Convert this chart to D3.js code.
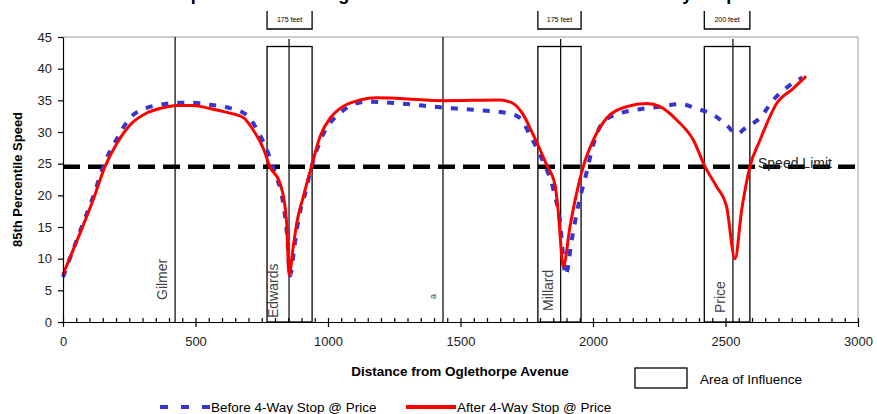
<!DOCTYPE html>
<html lang="en">
<head>
    <meta charset="UTF-8">
    <title>85th Percentile Speed</title>
    <script src="https://cdnjs.cloudflare.com/ajax/libs/d3/7.8.5/d3.min.js"></script>
    <style>
        body { margin: 0; background: #fff; }
        svg { display: block; font-family: Arial, "Liberation Sans", sans-serif; }
    </style>
</head>
<body>
    <div id="chart"></div>

    <script>
        // distance from Oglethorpe Avenue (ft) and 85th percentile speed (mph)
        const beforeDist = [0, 64, 114, 158, 203, 253, 316, 366, 429, 492, 555, 618, 693, 743, 769, 800, 830, 845, 857, 872, 890, 915, 940, 975, 1045, 1146, 1272, 1423, 1548, 1674, 1725, 1762, 1810, 1850, 1875, 1897, 1920, 1945, 1975, 2001, 2039, 2102, 2177, 2253, 2328, 2391, 2454, 2504, 2542, 2580, 2630, 2680, 2743, 2790];
        const beforeSpeed = [7.1, 14.3, 19.8, 25.2, 28.9, 32.2, 33.8, 34.3, 34.6, 34.6, 34.3, 33.9, 32.7, 29.5, 27.2, 23.5, 19.0, 14.0, 7.3, 11.5, 16.5, 20.5, 24.8, 29.0, 33.0, 34.8, 34.5, 33.9, 33.5, 33.0, 32.2, 29.5, 25.5, 21.0, 16.0, 7.4, 13.0, 18.5, 23.5, 28.0, 31.6, 32.95, 33.6, 34.0, 34.4, 33.7, 32.7, 31.1, 29.7, 30.8, 32.2, 35.05, 37.4, 38.6];

        const afterDist = [0, 64, 114, 158, 203, 253, 316, 366, 429, 492, 555, 618, 680, 718, 756, 781, 819, 834, 844, 853, 869, 882, 907, 938, 970, 1010, 1045, 1121, 1184, 1272, 1435, 1649, 1699, 1737, 1775, 1825, 1857, 1869, 1888, 1913, 1938, 1963, 2001, 2052, 2127, 2203, 2253, 2316, 2379, 2423, 2466, 2504, 2536, 2561, 2592, 2630, 2693, 2756, 2804];
        const afterSpeed = [7.5, 14.0, 19.3, 24.5, 28.2, 31.1, 33.0, 33.7, 34.2, 34.2, 33.7, 33.1, 32.3, 30.3, 27.4, 24.5, 21.9, 19.3, 15.6, 7.4, 11.9, 15.6, 19.8, 24.6, 29.3, 32.3, 33.7, 35.05, 35.4, 35.3, 34.95, 35.05, 34.5, 32.7, 29.5, 24.8, 21.6, 17.4, 8.8, 15.0, 20.3, 24.5, 28.7, 32.2, 34.0, 34.5, 34.0, 31.9, 28.7, 24.5, 21.4, 18.2, 10.0, 17.7, 24.5, 28.7, 34.5, 36.9, 38.8];

        const speedLimit = 24.5;

        // cross streets
        const streetNames = ['Gilmer', 'Edwards', 'a', 'Millard', 'Price'];
        const streetDist = [423, 853, 1434, 1878, 2528];

        // areas of influence
        const zoneStart = [770, 1792, 2420];
        const zoneEnd = [940, 1955, 2592];
        const zoneLabels = ['175 feet', '175 feet', '200 feet'];
        const zoneTop = 43.5;

        const xTicks = [0, 500, 1000, 1500, 2000, 2500, 3000];
        const yTicks = [0, 5, 10, 15, 20, 25, 30, 35, 40, 45];

        const width = 877;
        const height = 414;

        const svg = d3.select('#chart')
            .append('svg')
            .attr('width', width)
            .attr('height', height);

        const x = d3.scaleLinear().domain([0, 3000]).range([63, 858]);
        const y = d3.scaleLinear().domain([0, 45]).range([322, 37]);

        // title (cut off at the top edge in the original)
        svg.append('text')
            .attr('x', 458)
            .attr('y', -0.5)
            .attr('text-anchor', 'middle')
            .attr('font-size', 18)
            .attr('font-weight', 'bold')
            .text('Speed Profile Along Abercorn Street Before and After 4-Way Stop');

        // plot frame (top and right)
        svg.append('path')
            .attr('d', `M${x(0)},${y(45)}H${x(3000)}V${y(0)}`)
            .attr('fill', 'none')
            .attr('stroke', '#999')
            .attr('stroke-width', 1);

        // street lines
        svg.selectAll('.street')
            .data(streetDist)
            .enter()
            .append('line')
            .attr('x1', d => x(d))
            .attr('x2', d => x(d))
            .attr('y1', (d, i) => (i === 0 || i === 2) ? y(45) : y(44.7))
            .attr('y2', y(0))
            .attr('stroke', '#000')
            .attr('stroke-width', 1.2);

        svg.selectAll('.street-label')
            .data(streetNames)
            .enter()
            .append('text')
            .attr('transform', (d, i) => {
                const off = [-8, -11, -7, -8, -8][i];
                const ys = [300, 318, 299, 311, 313][i];
                return `translate(${x(streetDist[i]) + off},${ys}) rotate(-90)`;
            })
            .attr('font-size', d => d === 'a' ? 9 : 14)
            .attr('fill', '#444')
            .text(d => d);

        // area of influence boxes
        zoneStart.forEach((s, i) => {
            const e = zoneEnd[i];
            svg.append('rect')
                .attr('x', x(s))
                .attr('y', y(zoneTop))
                .attr('width', x(e) - x(s))
                .attr('height', y(0) - y(zoneTop))
                .attr('fill', 'none')
                .attr('stroke', '#000')
                .attr('stroke-width', 1.3);
            svg.append('path')
                .attr('d', `M${x(s)},11V29H${x(e)}V11`)
                .attr('fill', 'none')
                .attr('stroke', '#000')
                .attr('stroke-width', 1.3);
            svg.append('text')
                .attr('x', (x(s) + x(e)) / 2)
                .attr('y', 22)
                .attr('text-anchor', 'middle')
                .attr('font-size', 7)
                .text(zoneLabels[i]);
        });

        // speed limit
        svg.append('line')
            .attr('x1', x(0))
            .attr('x2', x(3000))
            .attr('y1', y(speedLimit))
            .attr('y2', y(speedLimit))
            .attr('stroke', '#000')
            .attr('stroke-width', 4.5)
            .attr('stroke-dasharray', '17,8');

        svg.append('text')
            .attr('x', 758)
            .attr('y', y(speedLimit) + 1)
            .attr('font-size', 14)
            .attr('fill', '#222')
            .text('Speed Limit');

        // speed profiles
        const line = d3.line()
            .x(d => x(d[0]))
            .y(d => y(d[1]))
            .curve(d3.curveMonotoneX);

        svg.append('path')
            .datum(beforeDist.map((d, i) => [d, beforeSpeed[i]]))
            .attr('d', line)
            .attr('fill', 'none')
            .attr('stroke', '#3535d0')
            .attr('stroke-width', 4)
            .attr('stroke-dasharray', '7,9');

        svg.append('path')
            .datum(afterDist.map((d, i) => [d, afterSpeed[i]]))
            .attr('d', line)
            .attr('fill', 'none')
            .attr('stroke', '#ff0000')
            .attr('stroke-width', 3);

        // axes
        const yAxis = svg.append('g')
            .attr('transform', `translate(${x(0)},0)`)
            .call(d3.axisLeft(y).tickValues(yTicks).tickSize(5).tickSizeOuter(0).tickPadding(6));

        const xMinor = svg.append('g')
            .attr('transform', `translate(0,${y(0)})`)
            .call(d3.axisBottom(x).tickValues(d3.range(0, 3001, 50)).tickSize(-4).tickSizeOuter(0).tickFormat(''));

        const xAxis = svg.append('g')
            .attr('transform', `translate(0,${y(0)})`)
            .call(d3.axisBottom(x).tickValues(xTicks).tickSize(5).tickSizeOuter(0).tickPadding(10).tickFormat(d3.format('d')));

        [yAxis, xMinor, xAxis].forEach(g => {
            g.selectAll('path, line').attr('stroke', '#000').attr('stroke-width', 1.2);
            g.selectAll('text')
                .attr('font-family', 'Arial, "Liberation Sans", sans-serif')
                .attr('font-size', 13)
                .attr('fill', '#222');
        });

        // axis titles
        svg.append('text')
            .attr('transform', `translate(22,${(y(0) + y(45)) / 2}) rotate(-90)`)
            .attr('text-anchor', 'middle')
            .attr('font-size', 13)
            .attr('font-weight', 'bold')
            .text('85th Percentile Speed');

        svg.append('text')
            .attr('x', 460)
            .attr('y', 376)
            .attr('text-anchor', 'middle')
            .attr('font-size', 13.5)
            .attr('font-weight', 'bold')
            .text('Distance from Oglethorpe Avenue');

        // legend
        svg.append('rect')
            .attr('x', 635)
            .attr('y', 368)
            .attr('width', 52)
            .attr('height', 20)
            .attr('fill', 'none')
            .attr('stroke', '#000')
            .attr('stroke-width', 1.3);
        svg.append('text')
            .attr('x', 700)
            .attr('y', 384)
            .attr('font-size', 13.5)
            .text('Area of Influence');

        svg.append('line')
            .attr('x1', 160).attr('x2', 210)
            .attr('y1', 407).attr('y2', 407)
            .attr('stroke', '#3535d0')
            .attr('stroke-width', 4)
            .attr('stroke-dasharray', '8,13');
        svg.append('text')
            .attr('x', 211)
            .attr('y', 412)
            .attr('font-size', 13.5)
            .text('Before 4-Way Stop @ Price');

        svg.append('line')
            .attr('x1', 406).attr('x2', 456)
            .attr('y1', 407).attr('y2', 407)
            .attr('stroke', '#ff0000')
            .attr('stroke-width', 4);
        svg.append('text')
            .attr('x', 457)
            .attr('y', 412)
            .attr('font-size', 13.5)
            .text('After 4-Way Stop @ Price');
    </script>
</body>
</html>
